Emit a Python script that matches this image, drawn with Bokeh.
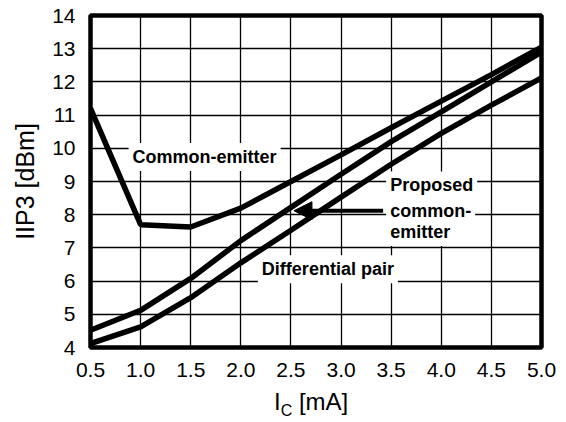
from bokeh.plotting import figure
from bokeh.layouts import column
from bokeh.models import (Range1d, SingleIntervalTicker, Label, Arrow, NormalHead,
                          NumeralTickFormatter, Div)
from bokeh.embed import file_html
from bokeh.resources import INLINE

# Collector current [mA]
ic_ma = [0.5, 1.0, 1.5, 2.0, 2.5, 3.0, 3.5, 4.0, 4.5, 5.0]

# IIP3 [dBm] for each topology
common_emitter = [11.2, 7.7, 7.63, 8.2, 9.0, 9.8, 10.62, 11.42, 12.22, 13.05]
proposed_ce = [4.52, 5.12, 6.08, 7.22, 8.22, 9.22, 10.2, 11.1, 12.0, 12.9]
differential_pair = [4.12, 4.62, 5.5, 6.55, 7.53, 8.53, 9.52, 10.45, 11.3, 12.12]

FONT = "Liberation Sans"

p = figure(width=566, height=388, output_backend="svg", toolbar_location=None,
           x_range=Range1d(0.5, 5.0), y_range=Range1d(4, 14),
           min_border_left=90, min_border_right=25, min_border_top=15,
           min_border_bottom=41)

p.background_fill_color = "white"
p.border_fill_color = "white"
p.outline_line_color = "black"
p.outline_line_width = 4.5

# grid
for g in (p.xgrid[0], p.ygrid[0]):
    g.grid_line_color = "black"
    g.grid_line_width = 1.3
p.xaxis.ticker = SingleIntervalTicker(interval=0.5)
p.yaxis.ticker = SingleIntervalTicker(interval=1)
p.xgrid[0].ticker = SingleIntervalTicker(interval=0.5)
p.ygrid[0].ticker = SingleIntervalTicker(interval=1)
p.xaxis.formatter = NumeralTickFormatter(format="0.0")

for ax in (p.xaxis[0], p.yaxis[0]):
    ax.axis_line_color = None
    ax.major_tick_line_color = None
    ax.minor_tick_line_color = None
    ax.major_label_text_font = FONT
    ax.major_label_text_font_size = "21px"
    ax.major_label_text_color = "black"
    ax.major_label_standoff = 9

p.yaxis.axis_label = "IIP3 [dBm]"
p.yaxis.axis_label_text_font = FONT
p.yaxis.axis_label_text_font_size = "25px"
p.yaxis.axis_label_text_font_style = "normal"
p.yaxis.axis_label_text_color = "black"
p.yaxis.axis_label_standoff = 10

# curves
for ys in (common_emitter, proposed_ce, differential_pair):
    p.line(ic_ma, ys, line_color="black", line_width=5.5)

# curve annotations
def note(x, y, text):
    p.add_layout(Label(x=x, y=y, text=text, text_font=FONT, text_font_size="18px",
                       text_font_style="bold", text_color="black",
                       text_baseline="middle", text_align="left",
                       background_fill_color="white", padding=4))

note(0.88, 9.74, "Common-emitter")
note(3.45, 8.88, "Proposed")
note(3.45, 8.10, "common-")
note(3.45, 7.48, "emitter")
note(2.17, 6.36, "Differential pair")

p.add_layout(Arrow(x_start=3.42, y_start=8.12, x_end=2.53, y_end=8.12,
                   line_color="black", line_width=4,
                   end=NormalHead(size=18, fill_color="black", line_color="black",
                                  line_width=1)))

# x-axis title with a subscripted C
xlabel = Div(
    text=('<span style="font-family:\'Liberation Sans\';font-size:24px;color:black;'
          'line-height:24px;white-space:nowrap;">I<span style="font-size:16px;'
          'position:relative;top:6px;">C</span> [mA]</span>'),
    width=566, height=34, margin=(0, 0, 0, 0),
    styles={"padding-left": "274px", "padding-top": "2px", "background": "white"})

layout = column(p, xlabel, spacing=0)
open("out.html", "w").write(file_html(layout, INLINE))
